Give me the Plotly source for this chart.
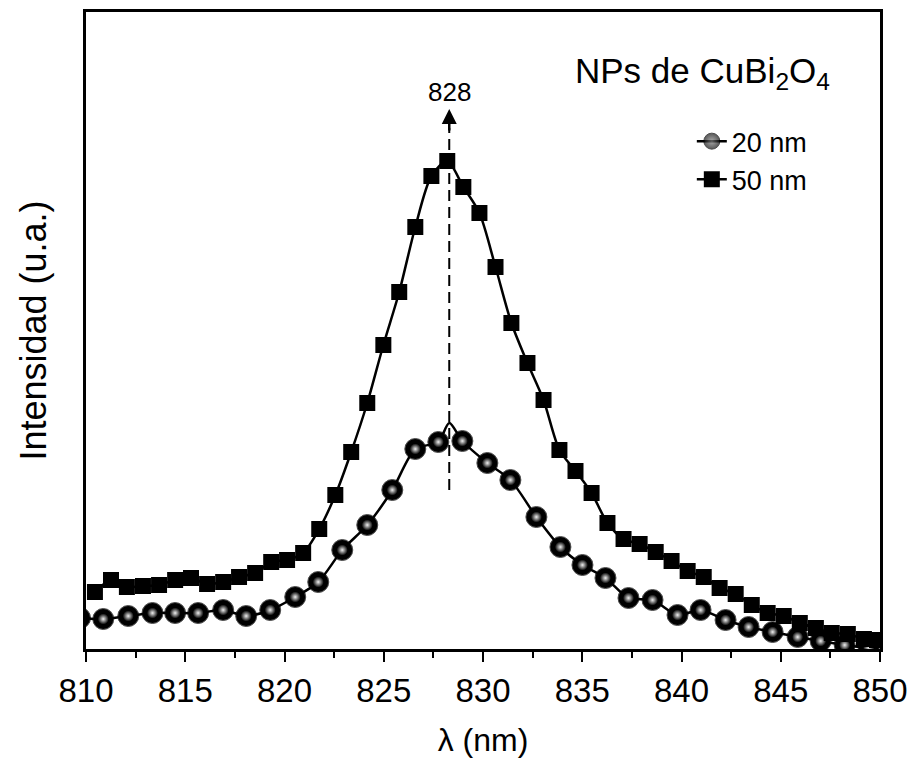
import plotly.graph_objects as go

# ---- data ----
wl_50 = [810.45, 811.26, 812.06, 812.87, 813.68, 814.49, 815.29, 816.10, 816.91, 817.71,
         818.52, 819.33, 820.13, 820.94, 821.75, 822.56, 823.36, 824.17, 824.98, 825.78,
         826.59, 827.40, 828.20, 829.01, 829.82, 830.63, 831.43, 832.24, 833.05, 833.85,
         834.66, 835.47, 836.27, 837.08, 837.89, 838.70, 839.50, 840.31, 841.12, 841.92,
         842.73, 843.54, 844.34, 845.15, 845.96, 846.77, 847.57, 848.38, 849.19, 849.85]
int_50 = [57, 69, 62, 63, 64, 69, 71, 65, 67, 72,
          76, 87, 89, 96, 120, 154, 197, 246, 304, 357,
          422, 473, 488, 462, 436, 382, 326, 286, 249, 199,
          178, 156, 126, 110, 105, 97, 88, 78, 72, 61,
          55, 44, 36, 33, 26, 21, 16, 15, 10, 9]

wl_20 = [809.70, 810.87, 812.13, 813.35, 814.49, 815.65, 816.91, 818.07, 819.28, 820.54,
         821.70, 822.91, 824.17, 825.43, 826.59, 827.75, 828.96, 830.22, 831.38, 832.69,
         833.90, 835.01, 836.17, 837.33, 838.54, 839.80, 840.96, 842.22, 843.38, 844.59,
         845.85, 847.01, 848.22, 849.43]
int_20 = [31, 30, 33, 36, 36, 36, 39, 33, 39, 52,
          67, 99, 124, 159, 200, 207, 208, 186, 169, 132,
          102, 84, 71, 51, 49, 34, 39, 29, 22, 17,
          12, 8, 4, 1]

peak_wl = 828.3
peak_int_20 = 226
peak_label = "828"
arrow_bottom = 159
arrow_base = 521
arrow_tip = 540
label_y = 557

x_ticks = [810, 815, 820, 825, 830, 835, 840, 845, 850]

# circle line passes through an extra (unmarked) peak point
line20_x, line20_y, size20 = [], [], []
inserted = False
for x, y in zip(wl_20, int_20):
    if not inserted and x > peak_wl:
        line20_x.append(peak_wl); line20_y.append(peak_int_20); size20.append(0)
        inserted = True
    line20_x.append(x); line20_y.append(y); size20.append(21)

FONT = "Liberation Sans, Arial"

fig = go.Figure()

fig.add_trace(go.Scatter(
    x=line20_x, y=line20_y, mode="lines+markers", name="20 nm",
    line=dict(color="black", width=2.5, shape="spline", smoothing=0.8),
    marker=dict(symbol="circle", size=size20, color="#111111",
                gradient=dict(type="radial", color="#888888"),
                line=dict(color="black", width=1)),
))
# solid dark sphere body
fig.add_trace(go.Scatter(
    x=wl_20, y=int_20, mode="markers", showlegend=False, hoverinfo="skip",
    marker=dict(symbol="circle", size=20, color="black", line=dict(width=0)),
))
# small bright highlight (centre colour = gradient colour, edge = marker colour)
fig.add_trace(go.Scatter(
    x=wl_20, y=int_20, mode="markers", showlegend=False, hoverinfo="skip",
    marker=dict(symbol="circle", size=11, color="black",
                gradient=dict(type="radial", color="#f0f0f0"),
                line=dict(width=0)),
))
fig.add_trace(go.Scatter(
    x=wl_50, y=int_50, mode="lines+markers", name="50 nm",
    line=dict(color="black", width=2.5, shape="spline", smoothing=0.8),
    marker=dict(symbol="square", size=16, color="black", line=dict(width=0)),
))

# dashed guide line + arrow
fig.add_shape(type="line", x0=peak_wl, x1=peak_wl, y0=arrow_bottom, y1=arrow_base,
              xref="x", yref="y", line=dict(color="black", width=2, dash="11px,6px"))
fig.add_annotation(x=peak_wl, y=arrow_tip, ax=peak_wl, ay=arrow_base - 4,
                   xref="x", yref="y", axref="x", ayref="y", text="",
                   showarrow=True, arrowhead=2, arrowsize=1.2, arrowwidth=2.5,
                   arrowcolor="black")
fig.add_annotation(x=peak_wl, y=label_y, xref="x", yref="y", text=peak_label,
                   showarrow=False, font=dict(size=26, color="black", family=FONT))
fig.add_annotation(x=0.776, y=0.905, xref="paper", yref="paper", xanchor="center",
                   yanchor="middle", showarrow=False,
                   text="NPs de CuBi<sub>2</sub>O<sub>4</sub>",
                   font=dict(size=35, color="black", family=FONT))

fig.update_layout(
    width=911, height=766,
    margin=dict(l=86, r=31, t=12, b=117),
    paper_bgcolor="white", plot_bgcolor="white",
    showlegend=True,
    legend=dict(x=0.763, y=0.835, xanchor="left", yanchor="top",
                bgcolor="rgba(0,0,0,0)", borderwidth=0,
                font=dict(size=27, color="black", family=FONT),
                tracegroupgap=0, itemwidth=30),
    font=dict(family=FONT, color="black"),
)
fig.update_xaxes(
    range=[810, 850], tickmode="array", tickvals=x_ticks,
    ticktext=[str(v) for v in x_ticks],
    ticks="outside", ticklen=10, tickwidth=2, tickcolor="black",
    minor=dict(ticks="outside", ticklen=6, tickwidth=2, tickcolor="black", dtick=2.5,
               showgrid=False),
    showline=True, linewidth=3, linecolor="black", mirror=True,
    showgrid=False, zeroline=False, automargin=False,
    tickfont=dict(size=33, family=FONT),
    title=dict(text="λ (nm)", font=dict(size=32, family=FONT), standoff=22),
)
fig.update_yaxes(
    range=[0, 637], showticklabels=False, ticks="",
    showline=True, linewidth=3, linecolor="black", mirror=True,
    showgrid=False, zeroline=False, automargin=False,
    title=dict(text="Intensidad (u.a.)", font=dict(size=36, family=FONT), standoff=26),
)

fig.write_html("out.html")
